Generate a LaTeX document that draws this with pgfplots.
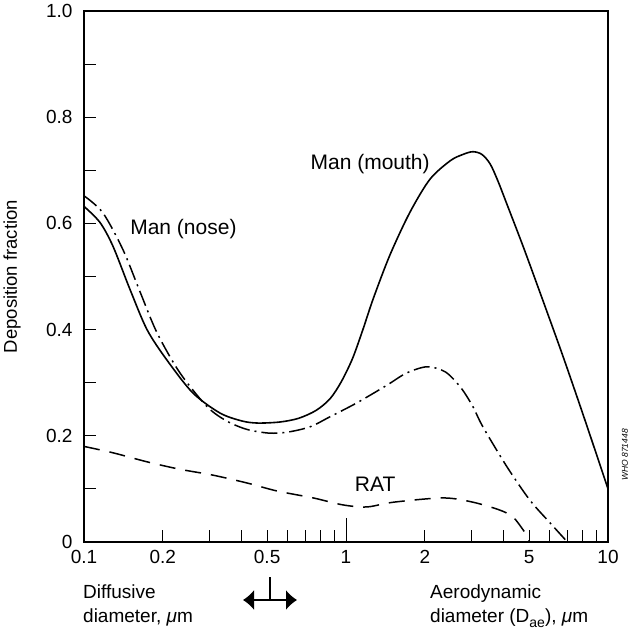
\documentclass[border=0pt]{standalone}
\usepackage{pgfplots}
\pgfplotsset{compat=1.18}
\usepackage{fontspec}
\setmainfont{Liberation Sans}
\usetikzlibrary{arrows.meta}

\begin{document}
\begin{tikzpicture}
\useasboundingbox (0,0) rectangle (633bp,635bp);
\begin{axis}[
  at={(84bp,93bp)}, anchor=south west,
  width=524bp, height=531bp, scale only axis,
  xmode=log, xmin=0.1, xmax=10, ymin=0, ymax=1,
  axis line style={line width=1.6bp},
  xtick={0.1,0.2,0.5,1,2,5,10},
  xticklabels={0.1,0.2,0.5,1,2,5,10},
  minor xtick={0.3,0.4,0.6,0.7,0.8,0.9,3,4,6,7,8,9},
  extra x ticks={1}, extra x tick labels={},
  extra x tick style={major tick length=24bp},
  ytick={0,0.2,0.4,0.6,0.8,1},
  yticklabels={0,0.2,0.4,0.6,0.8,1.0},
  minor ytick={0.1,0.3,0.5,0.7,0.9},
  tick align=inside,
  xtick pos=bottom, ytick pos=left,
  major tick length=12bp, minor tick length=12bp,
  every tick/.style={black, line width=1bp},
  tick label style={font=\fontsize{19bp}{22bp}\selectfont},
  xticklabel style={yshift=-5bp},
  yticklabel style={xshift=-8bp},
  /pgf/number format/assume math mode=true,
  ylabel={Deposition fraction},
  every axis y label/.style={at={(axis description cs:0,0.5)}, xshift=-72bp, rotate=90, anchor=center, font=\fontsize{18.5bp}{22bp}\selectfont},
  clip=true,
]
% Man (mouth)
\addplot[black, line width=1.6bp, smooth, tension=0.5] coordinates {
(0.1,0.632) (0.115,0.602) (0.129,0.557) (0.150,0.475) (0.174,0.400)
(0.207,0.343) (0.26,0.281) (0.33,0.243) (0.40,0.228) (0.46,0.224)
(0.56,0.226) (0.66,0.233) (0.77,0.248) (0.87,0.270) (0.96,0.302)
(1.06,0.346) (1.16,0.400) (1.27,0.458) (1.47,0.540) (1.75,0.620)
(2.09,0.683) (2.5,0.718) (2.8,0.730) (3.05,0.735) (3.3,0.730)
(3.55,0.712) (3.8,0.680) (4.1,0.638) (4.74,0.557) (5.5,0.470)
(6.73,0.350) (8.2,0.227) (10,0.100)
};
% Man (nose)
\addplot[black, line width=1.5bp, smooth, tension=0.5, dash pattern=on 16bp off 5bp on 2bp off 5bp] coordinates {
(0.1,0.652) (0.118,0.620) (0.141,0.550) (0.164,0.470) (0.19,0.394)
(0.232,0.319) (0.295,0.255) (0.35,0.228) (0.419,0.212) (0.51,0.205)
(0.6,0.207) (0.73,0.217) (0.87,0.236) (1.1,0.262) (1.43,0.295)
(1.7,0.318) (2.04,0.330) (2.4,0.320) (2.75,0.290) (3.05,0.255)
(3.33,0.217) (4.11,0.142) (5.03,0.079) (6.01,0.036) (7.0,0.0)
};
% RAT
\addplot[black, line width=1.5bp, smooth, tension=0.5, dash pattern=on 16bp off 10bp] coordinates {
(0.1,0.180) (0.129,0.168) (0.174,0.151) (0.232,0.137) (0.31,0.126)
(0.42,0.111) (0.546,0.096) (0.75,0.083) (0.97,0.070) (1.2,0.066)
(1.52,0.075) (2.35,0.083) (3.05,0.075) (3.87,0.060) (4.34,0.047)
(4.74,0.023) (4.95,0.008) (5.0,0.0)
};
\node[anchor=east, inner sep=0pt, font=\fontsize{21bp}{24bp}\selectfont] at (axis cs:2.09,0.711) {Man (mouth)};
\node[anchor=west, inner sep=0pt, font=\fontsize{21bp}{24bp}\selectfont] at (axis cs:0.150,0.589) {Man (nose)};
\node[anchor=west, inner sep=0pt, font=\fontsize{21bp}{24bp}\selectfont] at (axis cs:1.08,0.108) {RAT};
\end{axis}
\node[anchor=base west, inner sep=0pt, font=\fontsize{19bp}{22bp}\selectfont] at (83bp,37bp) {Diffusive};
\node[anchor=base west, inner sep=0pt, font=\fontsize{19bp}{22bp}\selectfont] at (83bp,13bp) {diameter, \textit{μ}m};
\node[anchor=base west, inner sep=0pt, font=\fontsize{19bp}{22bp}\selectfont] at (430bp,37bp) {Aerodynamic};
\node[anchor=base west, inner sep=0pt, font=\fontsize{19bp}{22bp}\selectfont] at (430bp,13bp) {diameter (D\raisebox{-5bp}{\fontsize{14bp}{14bp}\selectfont ae}), \textit{μ}m};
\draw[line width=1.4bp, {Latex[width=20bp,length=11bp]}-{Latex[width=20bp,length=11bp]}] (243bp,35bp) -- (297bp,35bp);
\draw[line width=1.4bp] (270bp,35bp) -- (270bp,58bp);
\node[rotate=90, inner sep=0pt, font=\itshape\fontsize{8.5bp}{9bp}\selectfont] at (625bp,180bp) {WHO 871448};
\end{tikzpicture}
\end{document}
